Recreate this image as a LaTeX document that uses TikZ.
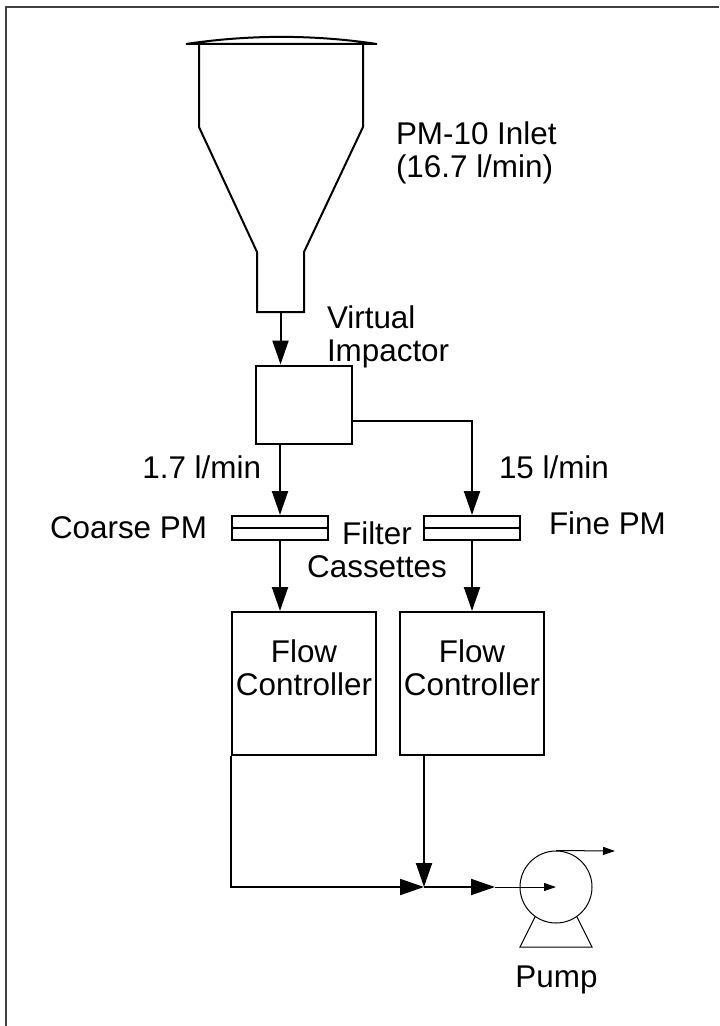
\documentclass[tikz,border=0pt]{standalone}
\usepackage{fontspec}
\setmainfont{Liberation Sans}
\usetikzlibrary{arrows.meta,positioning}

\begin{document}
\begin{tikzpicture}[x=0.5pt,y=-0.5pt,line width=1pt,
  flow/.style={-{Triangle[length=12pt,width=8pt]}},
  thinflow/.style={line width=0.5pt,-{Triangle[length=6pt,width=4pt]}},
  ctrl/.style={draw,minimum width=72pt,minimum height=71.5pt,inner sep=0pt},
  cassette/.style={draw,minimum width=48pt,minimum height=12pt,inner sep=0pt},
  lbl/.style={font=\fontsize{15.7}{16.5}\selectfont,inner sep=0pt,align=center}]
  \useasboundingbox (0,0) rectangle (719,1026);
  \draw[line width=0.75pt,black!75] (719,7) -- (6,7) -- (6,1026);

  % inlet
  \draw (186,44) .. controls (250,34.5) and (313,34.5) .. (377,44) -- cycle;
  \draw (199,44) -- (199,127) -- (257,252) -- (257,312) -- (304,312)
    -- (304,252) -- (363,127) -- (363,44);
  \coordinate (inl) at (280.5,312);
  \node[lbl,anchor=north west,align=left] (inlbl) at (395,121) {PM-10 Inlet\\(16.7 l/min)};

  % impactor
  \node[draw,minimum width=48pt,minimum height=39pt,inner sep=0pt] (vi) at (304,404.5) {};
  \node[lbl,anchor=north west,align=left] (vilbl) at (326,305) {Virtual\\Impactor};
  \draw[flow] (inl) -- (inl |- vi.north);

  % filter cassettes
  \node[cassette] (cf) at (280,528) {};
  \node[cassette] (ff) at (472,528) {};
  \draw (cf.west) -- (cf.east);
  \draw (ff.west) -- (ff.east);
  \draw[flow] (vi.south -| cf) -- (cf.north);
  \draw[flow] ([yshift=-8.25pt]vi.east) -| (ff.north);
  \node[lbl,anchor=base east] (cflow) at (262,478) {1.7 l/min};
  \node[lbl,anchor=base west] (fflow) at (498,478) {15 l/min};
  \node[lbl,anchor=base west] (cpm) at (49,538) {Coarse PM};
  \node[lbl,anchor=north] (fclbl) at (377,521) {Filter\\Cassettes};
  \node[lbl,anchor=base west] (fpm) at (548,534) {Fine PM};

  % flow controllers
  \node[ctrl] (fcl) at (304,683.5) {};
  \node[ctrl] (fcr) at (472,683.5) {};
  \node[lbl,anchor=north] at ([yshift=-14pt]fcl.north) {Flow\\Controller};
  \node[lbl,anchor=north] at ([yshift=-14pt]fcr.north) {Flow\\Controller};
  \draw[flow] (cf.south) -- (cf.south |- fcl.north);
  \draw[flow] (ff.south) -- (ff.south |- fcr.north);

  % pump
  \coordinate (jn) at (424,887);
  \coordinate (pin) at (495,887);
  \coordinate (pout) at (615,851);
  \node[draw,circle,line width=0.5pt,minimum size=36pt,inner sep=0pt] (pump) at (556,887) {};
  \draw[flow] (fcl.south west) |- (jn);
  \draw[flow] (fcr.south -| jn) -- (jn);
  \draw[flow] (jn) -- (pin);
  \draw[thinflow] (pin) -- (pump.center);
  \draw[thinflow] (pump.north) -- (pout);
  \draw[line width=0.5pt] (pump.-125) -- (520,947) -- (592,947) -- (pump.-55);
  \node[lbl,anchor=base] (plbl) at (556.5,987) {Pump};
\end{tikzpicture}
\end{document}
